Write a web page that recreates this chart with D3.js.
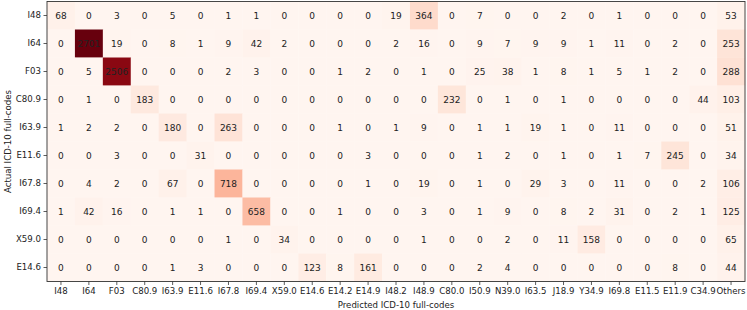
<!DOCTYPE html>
<html>
<head>
<meta charset="utf-8">
<script src="https://cdn.jsdelivr.net/npm/d3@7"></script>
<style>
  html, body { margin: 0; padding: 0; background: #fff; }
  svg { display: block; font-family: "DejaVu Sans", sans-serif; }
</style>
</head>
<body>
<svg id="chart" width="747" height="310"></svg>
<script>
const rowLabels = ["I48","I64","F03","C80.9","I63.9","E11.6","I67.8","I69.4","X59.0","E14.6"];
const colLabels = ["I48","I64","F03","C80.9","I63.9","E11.6","I67.8","I69.4","X59.0","E14.6","E14.2","E14.9","I48.2","I48.9","C80.0","I50.9","N39.0","I63.5","J18.9","Y34.9","I69.8","E11.5","E11.9","C34.9","Others"];

const rowI48  = [68,0,3,0,5,0,1,1,0,0,0,0,19,364,0,7,0,0,2,0,1,0,0,0,53];
const rowI64  = [0,2701,19,0,8,1,9,42,2,0,0,0,2,16,0,9,7,9,9,1,11,0,2,0,253];
const rowF03  = [0,5,2506,0,0,0,2,3,0,0,1,2,0,1,0,25,38,1,8,1,5,1,2,0,288];
const rowC809 = [0,1,0,183,0,0,0,0,0,0,0,0,0,0,232,0,1,0,1,0,0,0,0,44,103];
const rowI639 = [1,2,2,0,180,0,263,0,0,0,1,0,1,9,0,1,1,19,1,0,11,0,0,0,51];
const rowE116 = [0,0,3,0,0,31,0,0,0,0,0,3,0,0,0,1,2,0,1,0,1,7,245,0,34];
const rowI678 = [0,4,2,0,67,0,718,0,0,0,0,1,0,19,0,1,0,29,3,0,11,0,0,2,106];
const rowI694 = [1,42,16,0,1,1,0,658,0,0,1,0,0,3,0,1,9,0,8,2,31,0,2,1,125];
const rowX590 = [0,0,0,0,0,0,1,0,34,0,0,0,0,1,0,0,2,0,11,158,0,0,0,0,65];
const rowE146 = [0,0,0,0,1,3,0,0,0,123,8,161,0,0,0,2,4,0,0,0,0,0,8,0,44];

const matrix = [rowI48,rowI64,rowF03,rowC809,rowI639,rowE116,rowI678,rowI694,rowX590,rowE146];

const svg = d3.select("#chart");
const margin = {left: 47, top: 1.5, right: 2, bottom: 28.5};
const W = 747, H = 310;
const x = d3.scaleBand().domain(colLabels).range([margin.left, W - margin.right]).padding(0);
const y = d3.scaleBand().domain(rowLabels).range([margin.top, H - margin.bottom]).padding(0);

const maxV = d3.max(matrix.flat());
const color = d3.scaleSequential(d3.interpolateReds).domain([0, maxV]);

const cells = [];
matrix.forEach((row, i) => row.forEach((v, j) => cells.push({r: rowLabels[i], c: colLabels[j], v})));

svg.append("g").selectAll("rect").data(cells).join("rect")
  .attr("x", d => x(d.c)).attr("y", d => y(d.r))
  .attr("width", x.bandwidth() + 0.3).attr("height", y.bandwidth() + 0.3)
  .attr("fill", d => color(d.v));

svg.append("g").selectAll("text").data(cells).join("text")
  .attr("x", d => x(d.c) + x.bandwidth() / 2)
  .attr("y", d => y(d.r) + y.bandwidth() / 2)
  .attr("text-anchor", "middle").attr("dominant-baseline", "central")
  .attr("font-size", 9)
  .attr("fill", "#222")
  .text(d => d.v);

// frame
svg.append("rect")
  .attr("x", margin.left).attr("y", margin.top)
  .attr("width", W - margin.right - margin.left).attr("height", H - margin.bottom - margin.top)
  .attr("fill", "none").attr("stroke", "#333").attr("stroke-width", 0.9);

const xAxis = svg.append("g")
  .attr("transform", `translate(0,${H - margin.bottom})`)
  .call(d3.axisBottom(x).tickSize(3.5).tickPadding(2.5));
const yAxis = svg.append("g")
  .attr("transform", `translate(${margin.left},0)`)
  .call(d3.axisLeft(y).tickSize(3.5).tickPadding(2.5));
[xAxis, yAxis].forEach(a => {
  a.select(".domain").remove();
  a.selectAll("line").attr("stroke", "#333").attr("stroke-width", 0.8);
  a.selectAll("text").attr("font-size", 8.6).attr("fill", "#222")
    .attr("font-family", "DejaVu Sans, sans-serif");
});

svg.append("text")
  .attr("x", (margin.left + W - margin.right) / 2).attr("y", 308)
  .attr("text-anchor", "middle").attr("font-size", 8.6).attr("fill", "#222")
  .text("Predicted ICD-10 full-codes");

svg.append("text")
  .attr("transform", `translate(11,${(margin.top + H - margin.bottom) / 2}) rotate(-90)`)
  .attr("text-anchor", "middle").attr("font-size", 8.6).attr("fill", "#222")
  .text("Actual ICD-10 full-codes");
</script>
</body>
</html>
